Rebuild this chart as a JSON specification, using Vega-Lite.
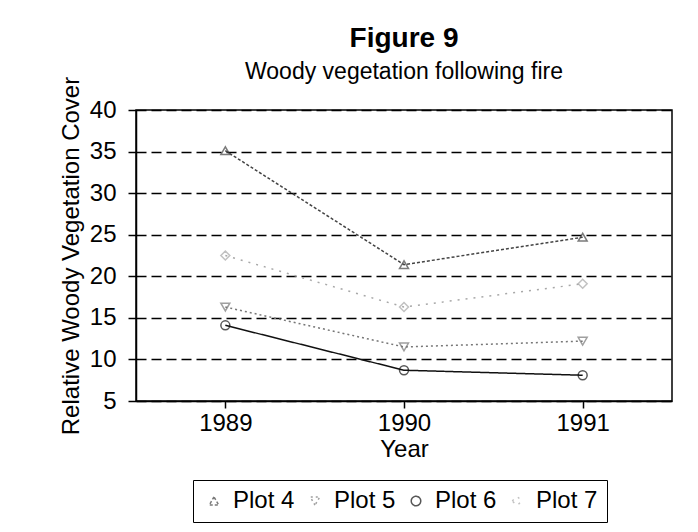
{
  "$schema": "https://vega.github.io/schema/vega-lite/v6.json",
  "width": 536,
  "height": 291,
  "autosize": {"type": "none"},
  "padding": {"left": 136, "top": 110, "right": 26, "bottom": 131},
  "background": "white",
  "title": {
    "text": "Figure 9",
    "subtitle": "Woody vegetation following fire",
    "anchor": "middle",
    "frame": "group",
    "fontSize": 28,
    "fontWeight": "bold",
    "subtitleFontSize": 23,
    "subtitlePadding": 8,
    "offset": -8,
    "color": "black",
    "subtitleColor": "black",
    "font": "Liberation Sans",
    "subtitleFont": "Liberation Sans"
  },
  "data": {
    "values": [
      {"series": "Plot 4", "year": 1989, "value": 35.1},
      {"series": "Plot 4", "year": 1990, "value": 21.4},
      {"series": "Plot 4", "year": 1991, "value": 24.7},
      {"series": "Plot 5", "year": 1989, "value": 16.3},
      {"series": "Plot 5", "year": 1990, "value": 11.5},
      {"series": "Plot 5", "year": 1991, "value": 12.2},
      {"series": "Plot 6", "year": 1989, "value": 14.1},
      {"series": "Plot 6", "year": 1990, "value": 8.7},
      {"series": "Plot 6", "year": 1991, "value": 8.1},
      {"series": "Plot 7", "year": 1989, "value": 22.5},
      {"series": "Plot 7", "year": 1990, "value": 16.3},
      {"series": "Plot 7", "year": 1991, "value": 19.1}
    ]
  },
  "encoding": {
    "x": {
      "field": "year",
      "type": "quantitative",
      "scale": {"domain": [1988.5, 1991.5], "nice": false, "zero": false},
      "axis": {
        "title": "Year",
        "values": [1989, 1990, 1991],
        "format": "d",
        "grid": false,
        "tickSize": 7,
        "labelPadding": 3,
        "titlePadding": 2
      }
    },
    "y": {
      "field": "value",
      "type": "quantitative",
      "scale": {"domain": [5, 40], "nice": false, "zero": false},
      "axis": {
        "title": "Relative Woody Vegetation Cover",
        "values": [5, 10, 15, 20, 25, 30, 35, 40],
        "grid": true,
        "gridDash": [10, 5],
        "gridColor": "black",
        "gridWidth": 1.5,
        "gridOpacity": 1,
        "tickSize": 8,
        "labelPadding": 12,
        "titlePadding": 6
      }
    },
    "color": {
      "field": "series",
      "type": "nominal",
      "scale": {"domain": ["Plot 4", "Plot 5", "Plot 6", "Plot 7"], "range": ["#444444", "#777777", "#111111", "#a8a8a8"]},
      "legend": {
        "title": null,
        "orient": "none",
        "legendX": 57,
        "legendY": 370,
        "direction": "horizontal",
        "strokeColor": "black",
        "padding": 9,
        "labelFontSize": 24,
        "labelFont": "Liberation Sans",
        "labelColor": "black",
        "columnPadding": 8,
        "symbolSize": 90,
        "symbolStrokeWidth": 1.5,
        "labelOffset": 7,
        "fillColor": "white"
      }
    }
  },
  "layer": [
    {
      "mark": {"type": "line", "strokeWidth": 1.5},
      "encoding": {
        "strokeDash": {
          "field": "series",
          "type": "nominal",
          "scale": {"domain": ["Plot 4", "Plot 5", "Plot 6", "Plot 7"], "range": [[3, 2], [2, 3], [1, 0], [2, 6]]},
          "legend": null
        }
      }
    },
    {
      "mark": {"type": "point", "filled": false, "size": 80, "strokeWidth": 1.5},
      "encoding": {
        "shape": {
          "field": "series",
          "type": "nominal",
          "scale": {"domain": ["Plot 4", "Plot 5", "Plot 6", "Plot 7"], "range": ["triangle-up", "triangle-down", "circle", "diamond"]},
          "legend": null
        }
      }
    }
  ],
  "config": {
    "font": "Liberation Sans",
    "view": {"stroke": "black", "strokeWidth": 1.5},
    "axis": {
      "labelFontSize": 24,
      "titleFontSize": 24,
      "titleFontWeight": "normal",
      "labelColor": "black",
      "titleColor": "black",
      "domainColor": "black",
      "domainWidth": 1.5,
      "tickColor": "black",
      "tickWidth": 1.5,
      "labelFont": "Liberation Sans",
      "titleFont": "Liberation Sans"
    }
  }
}
